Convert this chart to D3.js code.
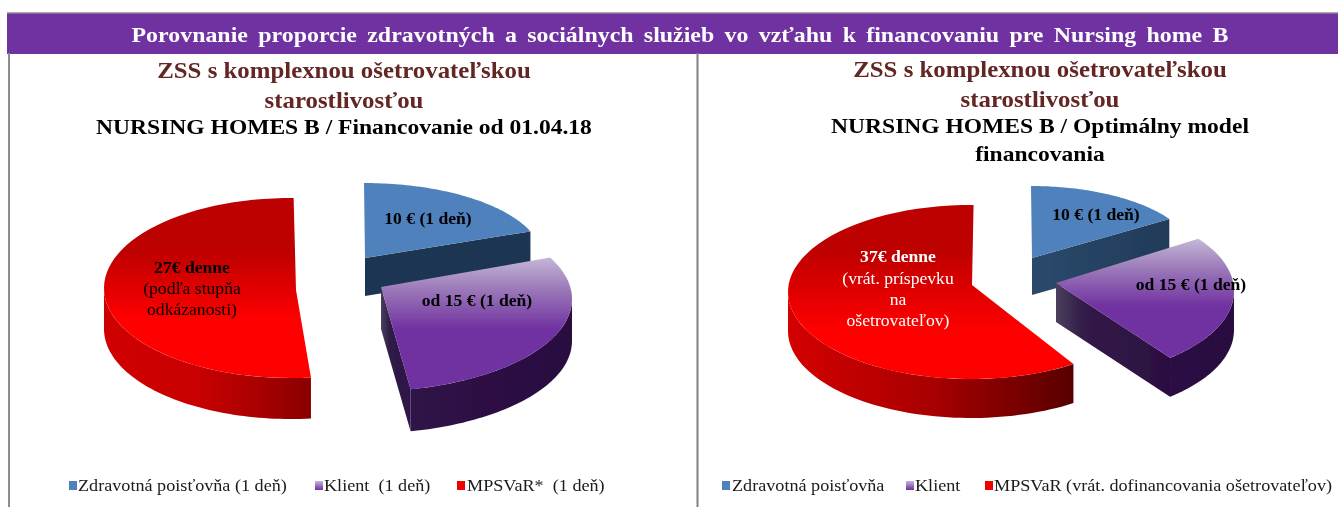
<!DOCTYPE html>
<html><head><meta charset="utf-8">
<script src="https://cdn.jsdelivr.net/npm/d3@7"></script>
<style>html,body{margin:0;padding:0;background:#fff}svg{display:block}text{font-family:"Liberation Serif",serif}</style>
</head><body><svg id="c" width="1338" height="507"></svg>
<script>
const categories = ["Zdravotná poisťovňa","Klient","MPSVaR"];
const valuesLeft = [10,15,27];
const valuesRight = [10,15,37];
const legendLeft = ["Zdravotná poisťovňa (1 deň)","Klient  (1 deň)","MPSVaR*  (1 deň)"];
const legendRight = ["Zdravotná poisťovňa","Klient","MPSVaR (vrát. dofinancovania ošetrovateľov)"];
const labelsLeft = [["10 € (1 deň)"],["od 15 € (1 deň)"],["27€ denne","(podľa stupňa","odkázanosti)"]];
const labelsRight = [["10 € (1 deň)"],["od 15 € (1 deň)"],["37€ denne","(vrát. príspevku","na","ošetrovateľov)"]];
const mainTitle = "Porovnanie proporcie zdravotných a sociálnych služieb vo vzťahu k financovaniu pre Nursing home B";
const subTitle = ["ZSS s komplexnou ošetrovateľskou","starostlivosťou"];
const titleLeft = ["NURSING HOMES B / Financovanie od 01.04.18"];
const titleRight = ["NURSING HOMES B / Optimálny model","financovania"];

const svg = d3.select("#c");
const defs = svg.append("defs");
defs.append("filter").attr("id","soft").attr("x","-5%").attr("y","-5%").attr("width","110%").attr("height","110%")
  .append("feGaussianBlur").attr("stdDeviation",0.45);
const root = svg.append("g").attr("filter","url(#soft)");

function grad(id,x1,y1,x2,y2,stops){
  const g=defs.append("linearGradient").attr("id",id).attr("gradientUnits","userSpaceOnUse")
    .attr("x1",x1).attr("y1",y1).attr("x2",x2).attr("y2",y2);
  stops.forEach(s=>g.append("stop").attr("offset",s[0]).attr("stop-color",s[1]));
  return `url(#${id})`;
}
function stretch(sel,f){
  sel.each(function(){
    const w=this.getComputedTextLength();
    d3.select(this).attr("textLength",w*f).attr("lengthAdjust","spacingAndGlyphs");
  });
  return sel;
}
// frame
root.append("rect").attr("x",7).attr("y",13).attr("width",1331).attr("height",41).attr("fill","#7030a0");
root.append("rect").attr("x",7).attr("y",12).attr("width",1331).attr("height",1.5).attr("fill","#a9a9a0");
root.append("rect").attr("x",8).attr("y",53).attr("width",2).attr("height",454).attr("fill","#8c8c8c");
root.append("rect").attr("x",696.5).attr("y",53).attr("width",2).attr("height",454).attr("fill","#808080");
root.append("text").attr("x",680).attr("y",42).attr("text-anchor","middle").attr("fill","#fff")
  .attr("font-weight","bold").attr("font-size",22).attr("word-spacing",4).attr("textLength",1097).attr("lengthAdjust","spacingAndGlyphs").text(mainTitle);

function titles(cx,ys,nys,names){
  stretch(root.selectAll(null).data(subTitle).join("text").attr("x",cx).attr("y",(d,i)=>ys[i]).attr("text-anchor","middle")
    .attr("fill","#632523").attr("font-weight","bold").attr("font-size",23).text(d=>d),1.08);
  stretch(root.selectAll(null).data(names).join("text").attr("x",cx).attr("y",(d,i)=>nys[i]).attr("text-anchor","middle")
    .attr("fill","#000").attr("font-weight","bold").attr("font-size",21.5).text(d=>d),1.095);
}
titles(344,[78,108],[134],titleLeft);
titles(1040,[77,107],[133,161],titleRight);

const pie = d3.pie().sort(null).value(d=>d);
const line = d3.line();

function drawPie(id,values,geo,labels){
  const arcs = pie(values);
  const g = root.append("g");
  arcs.forEach((a,i)=>{
    const p = geo.slices[i];
    const off = (p.off||0)*Math.PI/180;
    const pt = (t,dy=0)=>[p.cx+p.rx*Math.sin(t+off), p.cy-p.ry*Math.cos(t+off)+dy];
    const samples=(s,e)=>d3.range(0,61).map(k=>s+(e-s)*k/60);
    const s=a.startAngle, e=a.endAngle;
    const d=p.depth;
    const a0=[p.ax,p.ay];
    if(Math.sin(e+off)>0.001 && e+off<Math.PI){
      const c=pt(e);
      g.append("path").attr("d",line([a0,c,[c[0],c[1]+d],[a0[0],a0[1]+d]])+"Z")
        .attr("fill",grad(`${id}f${i}`,a0[0],0,c[0],0,p.face));
    }
    const ws=Math.max(s+off,Math.PI/2)-off, we=Math.min(e+off,3*Math.PI/2)-off;
    if(we>ws){
      const top=samples(ws,we).map(t=>pt(t));
      const bot=samples(we,ws).map(t=>pt(t,d));
      g.append("path").attr("d",line(top.concat(bot))+"Z")
        .attr("fill",grad(`${id}w${i}`,p.wall[0],0,p.wall[1],0,p.wallStops));
    }
    const rim=samples(s,e).map(t=>pt(t));
    g.append("path").attr("d",line([a0].concat(rim))+"Z")
      .attr("fill",grad(`${id}t${i}`,0,p.topG[0],0,p.topG[1],p.topStops));
    const lab=geo.labels[i];
    labels[i].forEach((t,k)=>{
      root.append("text").attr("x",lab.x).attr("y",lab.ys[k]).attr("text-anchor","middle")
        .attr("fill",lab.fill).attr("font-size",17.6)
        .attr("font-weight",(k===0)?"bold":"normal").text(t);
    });
  });
}
const blueTop=[[0,"#4f81bd"],[1,"#4f81bd"]];
const purpleTop=[[0,"#c4b7d6"],[0.45,"#9a78b8"],[1,"#7030a0"]];
const redTop=[[0,"#bd0000"],[1,"#ff0000"]];
drawPie("L",valuesLeft,{
 slices:[
  {ax:365,ay:258,cx:364,cy:258,rx:178,ry:75,depth:38,wall:[0,1],wallStops:blueTop,topG:[180,300],topStops:blueTop,face:[[0,"#1f3552"],[1,"#1f3552"]]},
  {ax:381,ay:287,cx:365,cy:299,rx:207,ry:92.6,off:-5.8,depth:42,wall:[405,572],wallStops:[[0,"#2f1248"],[1,"#2b1040"]],topG:[257,330],topStops:purpleTop,face:[[0,"#4a3f60"],[0.3,"#2f1c45"],[1,"#2f1248"]]},
  {ax:296,ay:290,cx:291,cy:288,rx:187,ry:90,off:0.8,depth:41,wall:[104,312],wallStops:[[0,"#d00000"],[0.45,"#c80000"],[0.75,"#a80000"],[1,"#880000"]],topG:[250,320],topStops:redTop,face:[[0,"#800000"],[1,"#800000"]]}
 ],
 labels:[{x:428,ys:[224],fill:"#000"},{x:477,ys:[306],fill:"#000"},{x:192,ys:[273,294,315],fill:"#000"}]
},labelsLeft);
drawPie("R",valuesRight,{
 slices:[
  {ax:1032,ay:258,cx:1031,cy:256,rx:163,ry:70,depth:37,wall:[0,1],wallStops:blueTop,topG:[180,300],topStops:blueTop,face:[[0,"#2a4a6c"],[1,"#223a58"]]},
  {ax:1056,ay:283,cx:1056,cy:291,rx:178,ry:87,off:-5,depth:39,wall:[1056,1234],wallStops:[[0,"#2f1248"],[1,"#2b1040"]],topG:[239,307],topStops:purpleTop,face:[[0,"#4a3f5c"],[0.25,"#321a48"],[1,"#2c0f40"]]},
  {ax:972,ay:285,cx:971,cy:292,rx:183,ry:87,off:0.8,depth:39,wall:[788,1076],wallStops:[[0,"#d40000"],[0.5,"#a80000"],[1,"#560000"]],topG:[250,330],topStops:redTop,face:[[0,"#800000"],[1,"#800000"]]}
 ],
 labels:[{x:1096,ys:[220],fill:"#000"},{x:1191,ys:[290],fill:"#000"},{x:898,ys:[262,284,305,326],fill:"#fff"}]
},labelsRight);

const swatchFill=[()=>"#4f81bd",(id)=>grad(id,0,481,0,490,[[0,"#c4b7d6"],[1,"#7030a0"]]),()=>"#f00000"];
function legend(id,names,sx,tx){
  names.forEach((n,i)=>{
    root.append("rect").attr("x",sx[i]).attr("y",481).attr("width",8).attr("height",9).attr("fill",swatchFill[i](id+"s"+i));
    stretch(root.append("text").attr("x",tx[i]).attr("y",491).attr("font-size",16.5).attr("fill","#1a1a1a").style("white-space","pre").text(n),1.1);
  });
}
legend("lgL",legendLeft,[69,315,457],[78,324,467]);
legend("lgR",legendRight,[722,906,985],[732,915,994]);
</script></body></html>
